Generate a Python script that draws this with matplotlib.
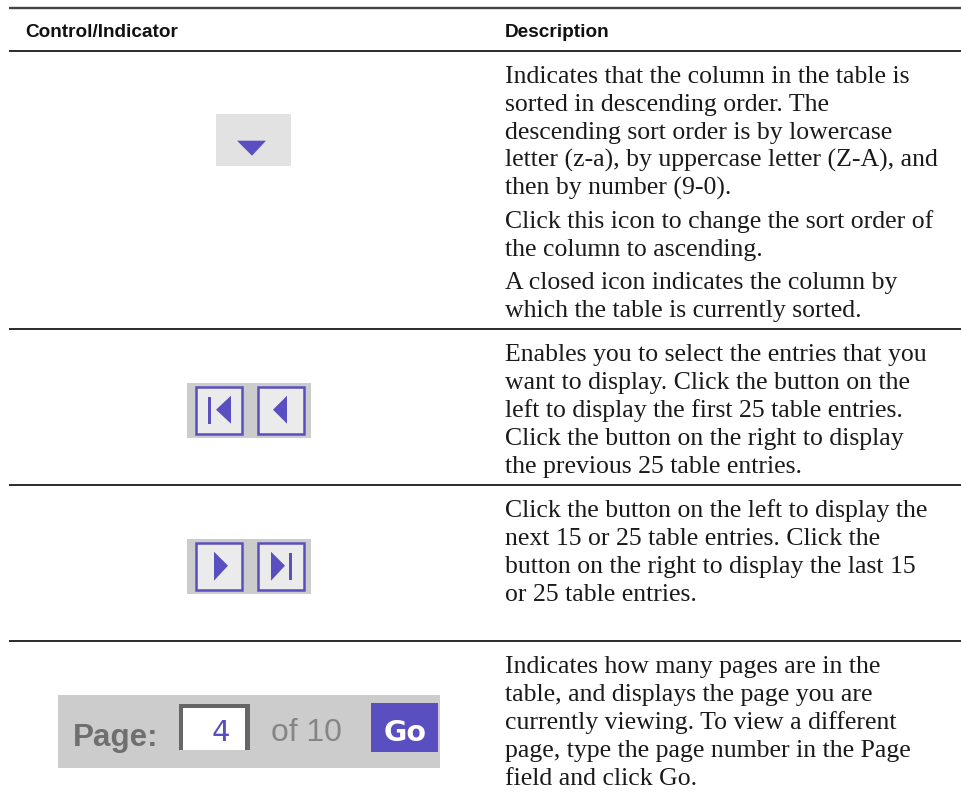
#!/usr/bin/env python
"""Control/Indicator table with icon column"""
import matplotlib
matplotlib.use('Agg')
import matplotlib.pyplot as plt
from matplotlib.patches import Rectangle, Polygon

W, H = 962, 812
BLUE = '#5a4fc0'
BODY_FONT = 'Liberation Serif'
BODY_SIZE = 18.5

headers = ['Control/Indicator', 'Description']

row1_lines = ['Indicates that the column in the table is',
              'sorted in descending order. The',
              'descending sort order is by lowercase',
              'letter (z-a), by uppercase letter (Z-A), and',
              'then by number (9-0).',
              'Click this icon to change the sort order of',
              'the column to ascending.',
              'A closed icon indicates the column by',
              'which the table is currently sorted.']
row1_base = [82, 110, 138, 166, 194, 227, 255, 288, 316]

row2_lines = ['Enables you to select the entries that you',
              'want to display. Click the button on the',
              'left to display the first 25 table entries.',
              'Click the button on the right to display',
              'the previous 25 table entries.']
row2_base = [360, 388, 416, 444, 472]

row3_lines = ['Click the button on the left to display the',
              'next 15 or 25 table entries. Click the',
              'button on the right to display the last 15',
              'or 25 table entries.']
row3_base = [516, 544, 572, 600]

row4_lines = ['Indicates how many pages are in the',
              'table, and displays the page you are',
              'currently viewing. To view a different',
              'page, type the page number in the Page',
              'field and click Go.']
row4_base = [672, 700, 728, 756, 784]

rule_y = [51, 329, 485, 641]

fig = plt.figure(figsize=(W / 100, H / 100), dpi=100, facecolor='white')
ax = fig.add_axes([0, 0, 1, 1])
ax.set_xlim(0, W)
ax.set_ylim(H - 0.7, -0.7)
ax.axis('off')


def box(x0, y0, x1, y1, color, ec='none', lw=0):
    ax.add_patch(Rectangle((x0, y0), x1 - x0, y1 - y0, facecolor=color, edgecolor=ec, linewidth=lw))


def tri(points):
    ax.add_patch(Polygon(points, closed=True, facecolor=BLUE, edgecolor='none'))


# ---- rules ----
ax.plot([9, W], [8, 8], color='#444444', linewidth=1.7, solid_capstyle='butt')
for y in rule_y:
    ax.plot([9, W], [y, y], color='#1a1a1a', linewidth=1.3, solid_capstyle='butt')

# ---- header ----
for x, label in zip([25, 505], headers):
    ax.text(x, 36, label, fontsize=13.7, fontweight='bold', family='Liberation Sans', color='#111111', va='baseline')

# ---- description column ----
for lines, bases in [(row1_lines, row1_base), (row2_lines, row2_base),
                     (row3_lines, row3_base), (row4_lines, row4_base)]:
    for line, y in zip(lines, bases):
        ax.text(505, y, line, fontsize=BODY_SIZE, family=BODY_FONT, color='#1a1a1a', va='baseline')

# ---- sort icon ----
box(216, 114, 291, 166, '#e2e2e2')
tri([(237, 141), (266, 141), (252, 156)])

# ---- first/previous buttons ----
box(187, 383, 311, 438, '#cccccc')
for x0, x1 in [(196, 242), (258, 304)]:
    box(x0, 387, x1, 434, '#ebebeb', ec=BLUE, lw=1.8)
box(208, 397, 211, 424, BLUE)
tri([(216, 410), (231, 396), (231, 424)])
tri([(273, 410), (287, 396), (287, 424)])

# ---- next/last buttons ----
box(187, 539, 311, 594, '#cccccc')
for x0, x1 in [(196, 242), (258, 304)]:
    box(x0, 543, x1, 590, '#ebebeb', ec=BLUE, lw=1.8)
tri([(214, 552), (228, 566), (214, 581)])
tri([(271, 552), (285, 566), (271, 581)])
box(289, 553, 292, 580, BLUE)

# ---- page field ----
box(58, 695, 440, 768, '#cccccc')
box(179, 704, 250, 750, '#666666')
box(183, 708, 245, 750, 'white')
ax.text(73, 745, 'Page:', fontsize=22.6, fontweight='bold', family='Liberation Sans', color='#6f6f6f', va='baseline')
ax.text(221, 740, '4', fontsize=21, family='DejaVu Sans', color=BLUE, ha='center', va='baseline')
ax.text(271, 740, 'of 10', fontsize=22.9, family='Liberation Sans', color='#858585', va='baseline')
box(371, 703, 438, 752, BLUE)
ax.text(405, 740, 'Go', fontsize=20.5, fontweight='bold', family='DejaVu Sans', color='white', ha='center', va='baseline')

plt.savefig('out.png', dpi=100)
plt.close()
